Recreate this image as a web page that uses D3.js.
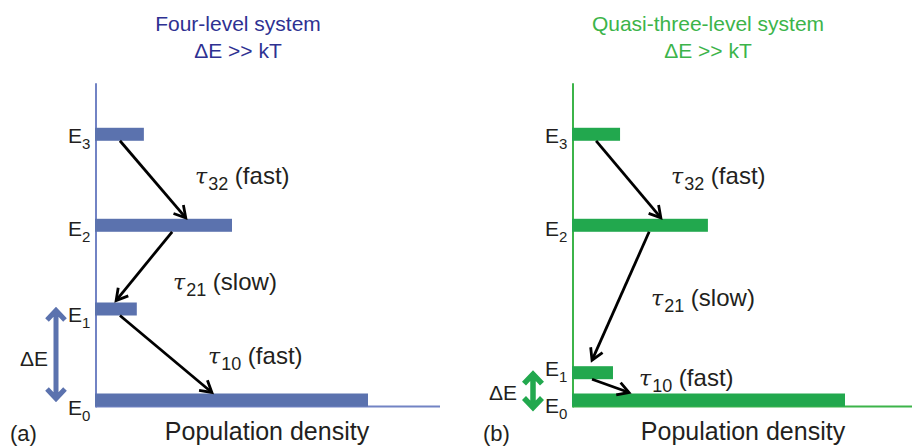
<!DOCTYPE html>
<html>
<head>
<meta charset="utf-8">
<script src="https://cdn.jsdelivr.net/npm/d3@7"></script>
<style>
  body { margin: 0; background: #fff; }
  svg { display: block; }
  text { font-family: "Liberation Sans", Arial, sans-serif; fill: #231f20; }
</style>
</head>
<body>
<svg id="chart" width="912" height="446"></svg>
<script>
// Energy levels (arbitrary units, E0 = 0) and relative populations (E0 = 100)
const levelSubscripts = ["0", "1", "2", "3"];
const energyFourLevel = [0, 1.0, 1.92, 2.92];
const populationFourLevel = [100, 15, 50, 17.6];
const energyQuasiThree = [0, 0.30, 1.92, 2.92];
const populationQuasiThree = [100, 14.7, 49.6, 17.3];

// Relaxation paths: start/end position along the population axis
const transitionsFourLevel = [
  { from: 3, to: 2, x0: 8.8, x1: 33.0, tau: "32", speed: "fast" },
  { from: 2, to: 1, x0: 28.0, x1: 7.4, tau: "21", speed: "slow" },
  { from: 1, to: 0, x0: 8.8, x1: 42.6, tau: "10", speed: "fast" }
];
const transitionsQuasiThree = [
  { from: 3, to: 2, x0: 8.5, x1: 32.3, tau: "32", speed: "fast" },
  { from: 2, to: 1, x0: 28.0, x1: 7.0, tau: "21", speed: "slow" },
  { from: 1, to: 0, x0: 7.0, x1: 20.6, tau: "10", speed: "fast" }
];

const titleLines = [["Four-level system", "ΔE >> kT"], ["Quasi-three-level system", "ΔE >> kT"]];
const panelTags = ["(a)", "(b)"];
const axisTitle = "Population density";
const gapLabel = "ΔE";

const svg = d3.select("#chart");

const panels = [
  {
    energy: energyFourLevel, population: populationFourLevel, transitions: transitionsFourLevel,
    title: titleLines[0], tag: panelTags[0],
    ox: 96, xEnd: 440, titleX: 238, titleColor: "#2e3192",
    barColor: "#5b72ae", axisColor: "#7283c4", axisWidth: 2,
    levelLabelDy: [15, 13, 11, 9],
    tipGap: [1, 2, 1],
    labelPos: [[99, 184], [77, 290], [112, 364]],
    gapArrow: { dx: -40, extra: 0, width: 5 }, gapLabelPos: [20, 366],
    tagX: 10, axisTitleX: 267
  },
  {
    energy: energyQuasiThree, population: populationQuasiThree, transitions: transitionsQuasiThree,
    title: titleLines[1], tag: panelTags[1],
    ox: 573, xEnd: 912, titleX: 708, titleColor: "#3cb44a",
    barColor: "#22a84e", axisColor: "#3cb44a", axisWidth: 2,
    levelLabelDy: [13, 3, 11, 9],
    tipGap: [1, 6, 1],
    labelPos: [[98, 184], [78, 306], [66, 386]],
    gapArrow: { dx: -40, extra: 9, width: 5.5 }, gapLabelPos: [489, 400],
    tagX: 483, axisTitleX: 743
  }
];

const barHeight = 13;

panels.forEach(p => {
  const x = d3.scaleLinear().domain([0, 100]).range([p.ox, p.ox + 272]);
  const y = d3.scaleLinear().domain([0, 3.48]).range([400, 400 - 3.48 * 91]);
  const g = svg.append("g");
  const axisY = y(0) + barHeight / 2;

  // Titles
  p.title.forEach((t, i) => {
    g.append("text").attr("x", p.titleX).attr("y", 31 + i * 27)
      .attr("text-anchor", "middle").attr("font-size", 21)
      .style("fill", p.titleColor).text(t);
  });

  // Axes (energy vertical, population horizontal)
  g.append("line")
    .attr("x1", x(0)).attr("x2", x(0))
    .attr("y1", y(3.48)).attr("y2", axisY + 1)
    .attr("stroke", p.axisColor).attr("stroke-width", p.axisWidth);
  g.append("line")
    .attr("x1", x(0)).attr("x2", p.xEnd)
    .attr("y1", axisY).attr("y2", axisY)
    .attr("stroke", p.axisColor).attr("stroke-width", p.axisWidth);

  // Population bars at each level
  const levels = p.energy.map((e, i) => ({ i, e, pop: p.population[i] }));
  g.selectAll("rect.level").data(levels).join("rect")
    .attr("class", "level")
    .attr("x", x(0) - 1)
    .attr("y", d => y(d.e) - barHeight / 2)
    .attr("width", d => x(d.pop) - x(0) + 1)
    .attr("height", barHeight)
    .attr("fill", p.barColor);

  // Level labels E_n
  const lab = g.selectAll("text.lvl").data(levels).join("text")
    .attr("class", "lvl")
    .attr("x", x(0) - 28)
    .attr("y", d => y(d.e) + p.levelLabelDy[d.i])
    .attr("font-size", 21);
  lab.append("tspan").text("E");
  lab.append("tspan").attr("font-size", 15).attr("dy", 6).text(d => levelSubscripts[d.i]);

  // Relaxation arrows
  p.transitions.forEach((t, k) => {
    const x1 = x(t.x0), y1 = y(p.energy[t.from]) + barHeight / 2;
    const x2 = x(t.x1), y2 = y(p.energy[t.to]) - barHeight / 2 - p.tipGap[k];
    const ang = Math.atan2(y2 - y1, x2 - x1);
    const hl = 13, ha = Math.PI / 6;
    g.append("line")
      .attr("x1", x1).attr("y1", y1).attr("x2", x2 - 1.5 * Math.cos(ang)).attr("y2", y2 - 1.5 * Math.sin(ang))
      .attr("stroke", "#000").attr("stroke-width", 2.8);
    g.append("path")
      .attr("d", `M${x2 - hl * Math.cos(ang - ha)},${y2 - hl * Math.sin(ang - ha)}L${x2},${y2}L${x2 - hl * Math.cos(ang + ha)},${y2 - hl * Math.sin(ang + ha)}`)
      .attr("fill", "none").attr("stroke", "#000").attr("stroke-width", 2.8)
      .attr("stroke-linejoin", "miter");

    const lt = g.append("text")
      .attr("x", p.ox + p.labelPos[k][0]).attr("y", p.labelPos[k][1])
      .attr("font-size", 24);
    lt.append("tspan").attr("font-family", "'DejaVu Serif', serif").attr("font-style", "italic")
      .attr("font-size", 22).text("τ");
    lt.append("tspan").attr("font-size", 18).attr("dy", 6).attr("dx", 1).text(t.tau);
    lt.append("tspan").attr("dy", -6).text(" (" + t.speed + ")");
  });

  // Energy gap double arrow between E1 and E0
  const gx = x(0) + p.gapArrow.dx;
  const gy1 = y(p.energy[1]), gy2 = y(p.energy[0]) + p.gapArrow.extra;
  const hw = 9, hh = 11;
  g.append("path")
    .attr("d", `M${gx},${gy1 + 2}L${gx},${gy2 - 2}M${gx - hw},${gy1 + hh}L${gx},${gy1 + 1.5}L${gx + hw},${gy1 + hh}M${gx - hw},${gy2 - hh}L${gx},${gy2 - 1.5}L${gx + hw},${gy2 - hh}`)
    .attr("fill", "none").attr("stroke", p.barColor).attr("stroke-width", p.gapArrow.width)
    .attr("stroke-linejoin", "miter");
  g.append("text").attr("x", p.gapLabelPos[0]).attr("y", p.gapLabelPos[1])
    .attr("font-size", 21).text(gapLabel);

  // Panel tag and axis title
  g.append("text").attr("x", p.tagX).attr("y", 441).attr("font-size", 22).text(p.tag);
  g.append("text").attr("x", p.axisTitleX).attr("y", 440).attr("text-anchor", "middle")
    .attr("font-size", 25).text(axisTitle);
});
</script>
</body>
</html>
